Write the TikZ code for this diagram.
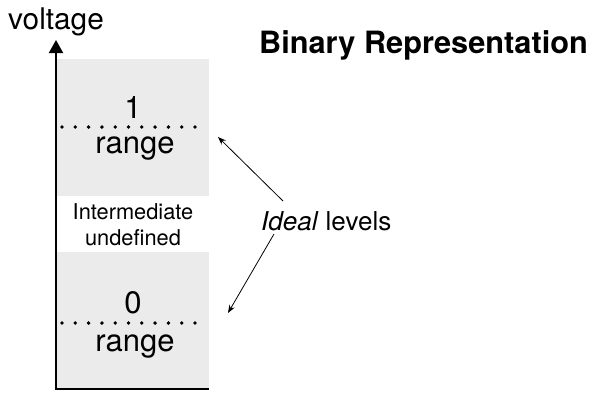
\documentclass[tikz,border=0pt]{standalone}
\usepackage{fontspec}
\setmainfont{TeX Gyre Heros}
\usetikzlibrary{arrows.meta}
\definecolor{boxgray}{HTML}{EBEBEB}
\tikzset{
  band/.style={fill=boxgray, draw=none},
  lbl/.style={inner sep=0pt, anchor=base, font=\fontsize{31}{33}\selectfont},
  small/.style={inner sep=0pt, anchor=base, font=\fontsize{21.8}{23}\selectfont},
  pointer/.style={-{Stealth[length=8pt,width=6pt]}, line width=0.8pt},
  dotrow/.style={fill=black}
}
\begin{document}
\begin{tikzpicture}[x=1pt,y=-1pt]
\useasboundingbox (0,0) rectangle (595,402);
% gray bands
\fill[band] (57,59) rectangle (209,196);
\fill[band] (57,252) rectangle (209,389);
% axes
\coordinate (origin) at (56,389);
\coordinate (ytop) at (56,40);
\coordinate (xend) at (209,389);
\draw[line width=2pt, -{Triangle[length=13pt,width=14pt]}] (origin) -- (ytop);
\draw[line width=2pt] ([xshift=-1pt]origin) -- (xend);
% dotted levels
\foreach \i in {0,...,10} {
  \fill[dotrow] ({62+13.3*\i},127) circle (1.9pt);
  \fill[dotrow] ({62+13.3*\i},323) circle (1.9pt);
}
% texts
\node[lbl] (one) at (133,118) {1};
\node[lbl] (r1) at (135,153) {range};
\node[lbl] (zero) at (133,313) {0};
\node[lbl] (r0) at (135,351) {range};
\node[small] (inter) at (133,219) {Intermediate};
\node[small] (undef) at (133,245) {undefined};
\node[inner sep=0pt, anchor=base west, font=\fontsize{29.8}{32}\selectfont] (volt) at (8,29) {voltage};
\node[inner sep=0pt, anchor=base west, font=\fontsize{30.7}{33}\selectfont\bfseries] (title) at (259,53) {Binary Representation};
\node[inner sep=0pt, anchor=base west, font=\fontsize{26}{30}\selectfont] (ideal) at (261,230) {\textit{Ideal} levels};
% pointers
\coordinate (s1) at (283,201);
\coordinate (t1) at (218,137);
\coordinate (s2) at (274,234);
\coordinate (t2) at (228,313);
\draw[pointer] (s1) -- (t1);
\draw[pointer] (s2) -- (t2);
\end{tikzpicture}
\end{document}
